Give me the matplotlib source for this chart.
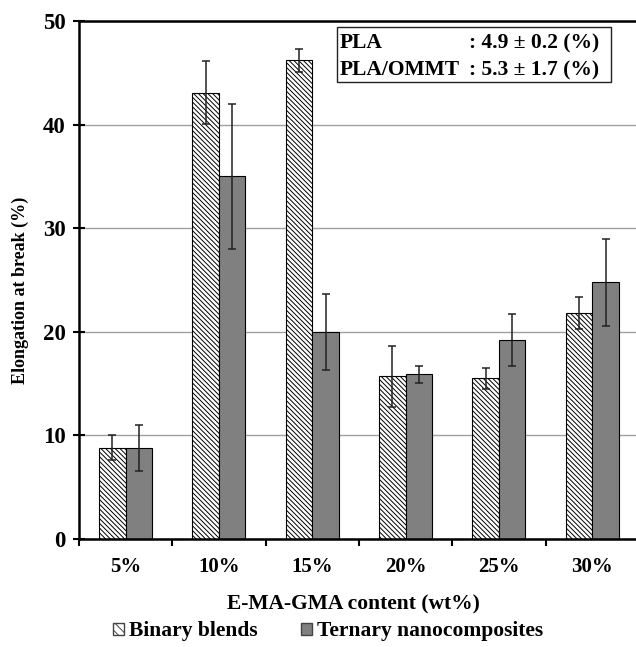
import numpy as np
import matplotlib
matplotlib.use('Agg')
import matplotlib.pyplot as plt
from matplotlib.patches import Rectangle, Patch

plt.rcParams['font.family'] = ['Liberation Serif', 'DejaVu Serif']
plt.rcParams['font.weight'] = 'bold'
plt.rcParams['hatch.linewidth'] = 0.7

categories = ['5%', '10%', '15%', '20%', '25%', '30%']
binary = [8.8, 43.1, 46.2, 15.7, 15.5, 21.8]
binary_err = [1.2, 3.0, 1.1, 2.95, 1.0, 1.55]
ternary = [8.8, 35.0, 20.0, 15.9, 19.2, 24.8]
ternary_err = [2.2, 7.0, 3.65, 0.8, 2.5, 4.2]

fig = plt.figure(figsize=(6.36, 6.47), dpi=100)
# axes runs past the right edge, as in the original
ax = fig.add_axes([0.1242, 0.1669, 0.8805, 0.8006])

x = np.arange(len(categories)) + 0.5
w = 0.284
ax.bar(x - w / 2, binary, w, color='white', edgecolor='black', linewidth=0.8,
       hatch='\\\\\\\\\\\\\\', zorder=2)
ax.bar(x + w / 2, ternary, w, color='#808080', edgecolor='black', linewidth=0.8,
       zorder=2)
ax.errorbar(x - w / 2, binary, yerr=binary_err, fmt='none', ecolor='#222222',
            elinewidth=1.1, capsize=3, capthick=1.1, zorder=3)
ax.errorbar(x + w / 2, ternary, yerr=ternary_err, fmt='none', ecolor='#222222',
            elinewidth=1.1, capsize=3, capthick=1.1, zorder=3)

ax.set_xlim(0, len(categories))
ax.set_ylim(0, 50)
ax.set_yticks(np.arange(0, 51, 10))
ax.set_xticks(np.arange(0, len(categories) + 1))
ax.set_xticklabels([])
ax.set_xticks(x, minor=True)
ax.set_xticklabels(categories, minor=True)
ax.tick_params(axis='x', which='minor', length=0, pad=13, labelsize=15)
ax.tick_params(axis='x', which='major', direction='out', length=5, width=1.5)
ax.tick_params(axis='y', direction='inout', length=9, width=1.5, labelsize=16.5, pad=5)
ax.yaxis.grid(True, color='#a0a0a0', linewidth=1, zorder=0)
ax.set_axisbelow(True)

for s in ['left', 'bottom', 'top']:
    ax.spines[s].set_linewidth(1.8)
ax.spines['right'].set_visible(False)

ax.set_xlabel('E-MA-GMA content (wt%)', fontsize=15.5, fontweight='bold', va='center')
ax.xaxis.set_label_coords(0.49, -0.1255)
ax.set_ylabel('Elongation at break (%)', fontsize=13, fontweight='bold')
ax.yaxis.set_label_coords(-0.09, 0.48)

# info box
ax.add_patch(Rectangle((0.4607, 0.8822), 0.4893, 0.1062, transform=ax.transAxes,
                       facecolor='white', edgecolor='#222222', linewidth=1, zorder=4))
ax.text(0.4661, 0.9575, 'PLA', transform=ax.transAxes, fontsize=15.5, va='center', zorder=5)
ax.text(0.696, 0.9575, ': 4.9 ± 0.2 (%)', transform=ax.transAxes, fontsize=15.5, va='center', zorder=5)
ax.text(0.4661, 0.9054, 'PLA/OMMT', transform=ax.transAxes, fontsize=15.5, va='center', zorder=5)
ax.text(0.696, 0.9054, ': 5.3 ± 1.7 (%)', transform=ax.transAxes, fontsize=15.5, va='center', zorder=5)

handles = [Patch(facecolor='white', edgecolor='#444444', hatch='\\\\\\\\', label='Binary blends'),
           Patch(facecolor='#808080', edgecolor='#444444', label='Ternary nanocomposites')]
fig.legend(handles=handles, loc='center', bbox_to_anchor=(0.516, 0.024), ncol=2,
           frameon=False, fontsize=15.5, handlelength=0.5, handleheight=0.5,
           handletextpad=0.25, columnspacing=2.0, borderpad=0)

fig.savefig('out.png', dpi=100)
